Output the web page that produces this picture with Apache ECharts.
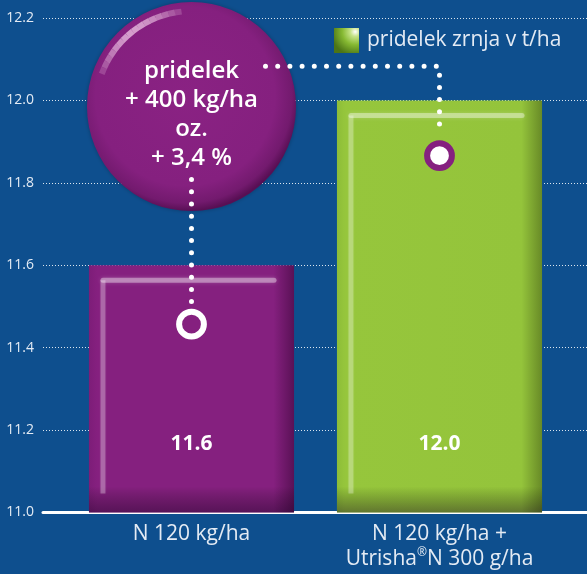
<!DOCTYPE html>
<html>
<head>
<meta charset="utf-8">
<script src="https://cdn.jsdelivr.net/npm/echarts@6/dist/echarts.min.js"></script>
<style>
  html, body { margin: 0; padding: 0; background: #0e4f8e; }
  #chart { width: 587px; height: 574px; }
</style>
</head>
<body>
<div id="chart"></div>
<script>
// Yield per treatment, t/ha
const categories = ['N 120 kg/ha', 'N 120 kg/ha +\nUtrisha®N 300 g/ha'];
const yieldValues = [11.6, 12.0];
const seriesName = 'pridelek zrnja v t/ha';
const yTicks = [11.0, 11.2, 11.4, 11.6, 11.8, 12.0, 12.2];

// Callout text and the value levels it points at
const calloutLines = ['pridelek', '+ 400 kg/ha', 'oz.', '+ 3,4 %'];
const calloutCenterValue = 11.985;
const connectorValue = 12.083;
const markerValues = [11.457, 11.866];

const FONT = '"Open Sans", Lato, sans-serif';
const TEXT = '#e4ebf4';

const barFills = [
  { type: 'linear', x: 0, y: 0, x2: 1, y2: 0, colorStops: [
    { offset: 0, color: '#7d1d78' }, { offset: 0.04, color: '#85207f' },
    { offset: 0.9, color: '#85207f' }, { offset: 1, color: '#5a1156' } ] },
  { type: 'linear', x: 0, y: 0, x2: 1, y2: 0, colorStops: [
    { offset: 0, color: '#8dbd38' }, { offset: 0.04, color: '#96c63c' },
    { offset: 0.9, color: '#94c43b' }, { offset: 1, color: '#688a27' } ] }
];

const chart = echarts.init(document.getElementById('chart'), null, { renderer: 'canvas' });
const BAR_RATIO = 0.827;

chart.setOption({
  backgroundColor: '#0e4f8e',
  animation: false,
  legend: {
    left: 334, top: 28, padding: 0, itemWidth: 25, itemHeight: 25, icon: 'rect',
    data: [{ name: seriesName, itemStyle: { color: {
      type: 'radial', x: 0.85, y: 0.15, r: 0.95, colorStops: [
        { offset: 0, color: '#ffffff' }, { offset: 0.2, color: '#c6e488' },
        { offset: 0.55, color: '#86b932' }, { offset: 1, color: '#4c7516' } ] } } }],
    textStyle: { color: TEXT, fontSize: 21, fontFamily: FONT, padding: [0, 0, 0, 3] }
  },
  grid: [
    { left: 67.5, right: 23.5, top: 18, bottom: 61.5 },
    { left: 43, right: 0, top: 18, bottom: 61.5 }
  ],
  xAxis: [
    { type: 'category', gridIndex: 0, data: categories,
      axisLine: { show: false }, axisTick: { show: false },
      axisLabel: { interval: 0, hideOverlap: false, color: TEXT, fontSize: 21, fontFamily: FONT,
        lineHeight: 25, margin: 9,
        formatter: s => s.replace('®', '{s|®}'),
        rich: { s: { fontSize: 12, verticalAlign: 'top', color: TEXT, fontFamily: FONT, padding: [0, 0, 7, 0] } } } },
    { type: 'value', gridIndex: 1, min: 0, max: 1,
      axisLine: { show: true, lineStyle: { color: '#ffffff', width: 3 } },
      axisTick: { show: false }, axisLabel: { show: false }, splitLine: { show: false } }
  ],
  yAxis: [
    { type: 'value', gridIndex: 0, min: yTicks[0], max: yTicks[yTicks.length - 1], show: false },
    { type: 'value', gridIndex: 1, min: yTicks[0], max: yTicks[yTicks.length - 1], interval: 0.2,
      axisLine: { show: false }, axisTick: { show: false },
      axisLabel: { color: TEXT, fontSize: 14, fontFamily: FONT, margin: 9, formatter: v => v.toFixed(1) },
      splitLine: { show: true, lineStyle: { color: 'rgba(255,255,255,0.85)', type: [1, 2], width: 1 } } }
  ],
  series: [
    { name: seriesName, type: 'bar', xAxisIndex: 0, yAxisIndex: 0,
      barWidth: (BAR_RATIO * 100) + '%',
      data: yieldValues.map((v, i) => ({ value: v, itemStyle: { color: barFills[i] } })),
      label: { show: true, position: 'insideBottom', distance: 58, color: '#ffffff',
        fontSize: 21, fontWeight: 'bold', fontFamily: FONT, formatter: p => p.value.toFixed(1) },
      z: 2 },
    // bevel shading and glossy highlights on each bar
    { type: 'custom', xAxisIndex: 0, yAxisIndex: 0, z: 3, silent: true,
      data: yieldValues.map((v, i) => [i, v]),
      renderItem: (params, api) => {
        const top = api.coord([api.value(0), api.value(1)]);
        const base = api.coord([api.value(0), yTicks[0]]);
        const w = api.size([1, 0])[0] * BAR_RATIO;
        const l = top[0] - w / 2, r = top[0] + w / 2, t = top[1], b = base[1];
        const hl = 'rgba(255,255,255,0.38)';
        return { type: 'group', children: [
          { type: 'rect', shape: { x: l, y: b - 26, width: w, height: 26 },
            style: { fill: { type: 'linear', x: 0, y: 0, x2: 0, y2: 1, colorStops: [
              { offset: 0, color: 'rgba(0,0,0,0)' }, { offset: 1, color: 'rgba(20,0,30,0.4)' } ] } } },
          { type: 'line', shape: { x1: l + 14, y1: t + 15, x2: r - 20, y2: t + 15 },
            style: { stroke: hl, lineWidth: 5, lineCap: 'round', shadowBlur: 4, shadowColor: 'rgba(255,255,255,0.5)' } },
          { type: 'line', shape: { x1: l + 14, y1: t + 15, x2: l + 14, y2: b - 19 },
            style: { stroke: 'rgba(255,255,255,0.28)', lineWidth: 5, lineCap: 'butt', shadowBlur: 3, shadowColor: 'rgba(255,255,255,0.3)' } }
        ] };
      } }
  ]
});

// Callout bubble, dotted connectors and ring markers placed in data units
function px(idx, val) { return chart.convertToPixel({ xAxisIndex: 0, yAxisIndex: 0 }, [idx, val]); }
const c = px(0, calloutCenterValue);
const R = 104.5;
const m0 = px(0, markerValues[0]);
const m1 = px(1, markerValues[1]);
const conn = px(1, connectorValue);
const dotStyle = { stroke: '#ffffff', lineWidth: 5, lineDash: [0, 12.2], lineCap: 'round' };

// glossy rim on the upper-left of the bubble, drawn in short pieces so it fades at both ends
const gloss = [];
const a0 = 200, a1 = 264, steps = 16;
for (let k = 0; k < steps; k++) {
  const s = (a0 + (a1 - a0) * k / steps) * Math.PI / 180;
  const e = (a0 + (a1 - a0) * (k + 1) / steps) * Math.PI / 180;
  const mid = (k + 0.5) / steps;
  const alpha = 0.15 + 0.5 * Math.sin(Math.PI * mid);
  gloss.push({ type: 'line', z: 12, silent: true,
    shape: { x1: c[0] + (R - 9) * Math.cos(s), y1: c[1] + (R - 9) * Math.sin(s),
             x2: c[0] + (R - 9) * Math.cos(e), y2: c[1] + (R - 9) * Math.sin(e) },
    style: { stroke: 'rgba(255,225,245,' + alpha.toFixed(2) + ')', lineWidth: 6, lineCap: 'butt' } });
}

chart.setOption({
  graphic: [
    { type: 'circle', z: 11, silent: true, shape: { cx: c[0], cy: c[1], r: R },
      style: { fill: { type: 'radial', x: 0.47, y: 0.45, r: 0.55, colorStops: [
        { offset: 0, color: '#8a2283' }, { offset: 0.78, color: '#85207f' },
        { offset: 0.93, color: '#731a6e' }, { offset: 1, color: '#580f54' } ] },
        shadowBlur: 4, shadowColor: 'rgba(0,0,0,0.25)' } },
    ...gloss,
    { type: 'polyline', z: 12, silent: true,
      shape: { points: [[c[0] + 74, conn[1]], [conn[0], conn[1]], [conn[0], m1[1] - 22]] }, style: dotStyle },
    { type: 'polyline', z: 12, silent: true,
      shape: { points: [[c[0], c[1] + 73], [c[0], m0[1] - 22]] }, style: dotStyle },
    { type: 'text', z: 13, silent: true, x: c[0], y: c[1] + 8,
      style: { text: calloutLines.join('\n'), fill: '#ffffff', fontSize: 24, fontWeight: 600,
        fontFamily: FONT, lineHeight: 29, align: 'center', verticalAlign: 'middle' } },
    { type: 'circle', z: 12, silent: true, shape: { cx: m0[0], cy: m0[1], r: 12.4 },
      style: { fill: 'none', stroke: '#ffffff', lineWidth: 6 } },
    { type: 'circle', z: 12, silent: true, shape: { cx: m1[0], cy: m1[1], r: 12.4 },
      style: { fill: '#ffffff', stroke: '#85207f', lineWidth: 6 } }
  ]
});
</script>
</body>
</html>
